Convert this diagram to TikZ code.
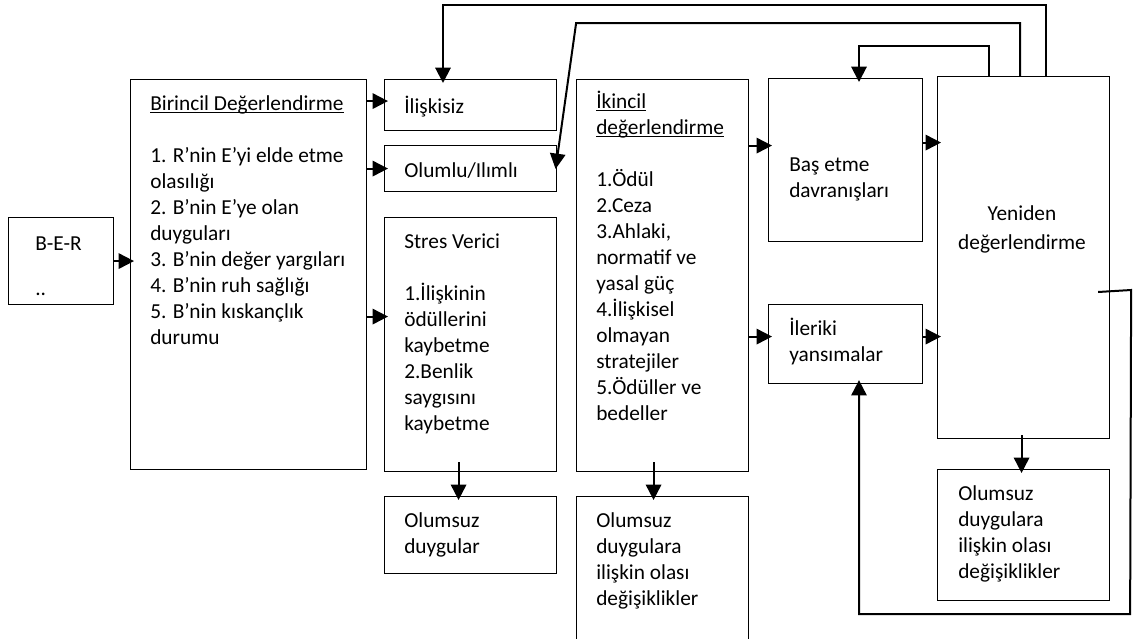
\documentclass[tikz,border=0pt]{standalone}
\usepackage{fontspec}
\setmainfont{Carlito}
\usetikzlibrary{arrows.meta,calc}
\newcommand{\fl}{\rule{0pt}{14pt}}
\newsavebox{\ulxbox}
\newcommand{\ulx}[1]{\sbox{\ulxbox}{#1}\rlap{\rule[-2.4pt]{\wd\ulxbox}{0.8pt}}\usebox{\ulxbox}}
\tikzset{
  box/.style 2 args={draw, line width=0.85pt, minimum width=#1*0.75pt, minimum height=#2*0.75pt, anchor=north west, inner sep=0pt},
  txt/.style={font=\fontsize{16}{19.5}\selectfont, align=left, inner sep=0pt, anchor=north west},
  arr/.style={line width=1.5pt, shorten >=-3pt, -{Triangle[length=11.5pt,width=11.5pt]}},
  con/.style={line width=1.5pt}
}
\begin{document}
\begin{tikzpicture}[x=0.75pt,y=-0.75pt]
\useasboundingbox (0,0) rectangle (1136,639);
% boxes
\node[box={105}{87}] (ber) at (8,217) {};
\node[box={236}{390}] (bir) at (130,79) {};
\node[box={172}{51}] (ilis) at (384,79) {};
\node[box={172}{46}] (olum) at (384,145) {};
\node[box={172}{254}] (stres) at (384,217) {};
\node[box={172}{77}] (olduy) at (384,496) {};
\node[box={172}{392}] (ikin) at (576,79) {};
\node[box={172}{160}] (olmid) at (576,496) {};
\node[box={154}{163}] (bas) at (768,78) {};
\node[box={154}{79}] (ileri) at (768,304) {};
\node[box={172}{362}] (yen) at (937,76) {};
\node[box={172}{131}] (olright) at (937,469) {};
% texts
\node[txt] (tber) at (35,231.3) {\fl B-E-R\\[14.25pt]..};
\node[txt] (tbir) at (150,91.3) {\fl\ulx{Birincil Değerlendirme}\\[19.5pt]
1. R’nin E’yi elde etme\\olasılığı\\2. B’nin E’ye olan\\duyguları\\3. B’nin değer yargıları\\4. B’nin ruh sağlığı\\5. B’nin kıskançlık\\durumu};
\node[txt] (tilis) at (404,94.3) {\fl İlişkisiz};
\node[txt] (tolum) at (404,158.3) {\fl Olumlu/Ilımlı};
\node[txt] (tstres) at (404,229.3) {\fl Stres Verici\\[19.5pt]1.İlişkinin\\ödüllerini\\kaybetme\\2.Benlik\\saygısını\\kaybetme};
\node[txt] (tolduy) at (404,508.3) {\fl Olumsuz\\duygular};
\node[txt] (tikin) at (596,89.3) {\fl\ulx{İkincil}\\\ulx{değerlendirme}\\[19.5pt]1.Ödül\\2.Ceza\\3.Ahlaki,\\normatif ve\\yasal güç\\4.İlişkisel\\olmayan\\stratejiler\\5.Ödüller ve\\bedeller};
\node[txt] (tolmid) at (596,508.3) {\fl Olumsuz\\duygulara\\ilişkin olası\\değişiklikler};
\node[txt] (tbas) at (789,152.3) {\fl Baş etme\\[0.5pt]davranışları};
\node[txt] (tileri) at (789,316.3) {\fl İleriki\\yansımalar};
\node[txt, align=center, anchor=north] (tyen) at (1022,201.3) {\fl Yeniden\\[2.25pt]değerlendirme};
\node[txt] (tolright) at (958,481.3) {\fl Olumsuz\\duygulara\\ilişkin olası\\değişiklikler};
% connectors
\draw[arr] (ber.east) -- (ber.east -| bir.west);
\draw[arr] ($(bir.east |- ilis.west)+(0,-4)$) -- ($(ilis.west)+(0,-4)$);
\draw[arr] (bir.east |- olum.west) -- (olum.west);
\draw[arr] ($(bir.east |- stres.west)+(0,-28)$) -- ($(stres.west)+(0,-28)$);
\draw[arr] ($(ikin.east |- bas.west)+(0,-14.5)$) -- ($(bas.west)+(0,-14.5)$);
\draw[arr] ($(ikin.east |- ileri.west)+(0,-7.5)$) -- ($(ileri.west)+(0,-7.5)$);
\draw[arr] ($(bas.east)+(0,-17.5)$) -- ($(bas.east -| yen.west)+(0,-17.5)$);
\draw[arr] ($(ileri.east)+(0,-7.5)$) -- ($(ileri.east -| yen.west)+(0,-7.5)$);
\draw[arr] ($(stres.south)+(-12,-10)$) -- ($(olduy.north)+(-12,0)$);
\draw[arr] ($(ikin.south)+(-9,-10)$) -- ($(olmid.north)+(-9,0)$);
\draw[arr] ($(yen.south)+(-2,-4)$) -- ($(olright.north)+(-2,0)$);
% top loops
\draw[arr] ($(yen.north west)+(52,0)$) |- ($(bas.north west)+(91,-32)$) -- ($(bas.north west)+(91,0)$);
\draw[arr] ($(yen.north west)+(83,0)$) -- ($(yen.north west)+(83,-53)$) -- ($(olum.north east)+(19,-122)$) -- ($(olum.north east)+(-1,20)$);
\draw[arr] ($(yen.north west)+(109,0)$) -- ($(yen.north west)+(109,-71)$) -| ($(ilis.north west)+(59,0)$);
% right loop
\draw[arr] ($(yen.north east)+(-12,216)$) -- ($(yen.north east)+(21,214)$) -- ($(olright.south east)+(20,13)$) -| ($(ileri.south west)+(91,0)$);
\end{tikzpicture}
\end{document}
